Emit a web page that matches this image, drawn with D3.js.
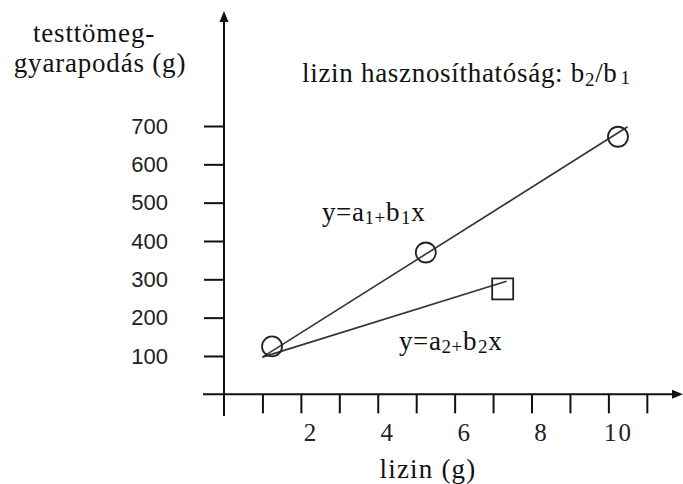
<!DOCTYPE html>
<html><head><meta charset="utf-8">
<script src="https://cdn.jsdelivr.net/npm/d3@7"></script>
<style>body{margin:0;background:#fff}svg{display:block}</style>
</head><body>
<script>
// data
const circleX = [1, 5, 10];
const circleY = [125, 370, 672];
const squareX = [7];
const squareY = [275];
const line1X = [0.75, 10.25];
const line1Y = [97, 698];
const line2X = [0.75, 7.1];
const line2Y = [97, 295];
const yTicks = [100, 200, 300, 400, 500, 600, 700];
const xLabelTicks = [2, 4, 6, 8, 10];
const xMarkTicks = [0.75, 1.75, 2.75, 3.75, 4.75, 5.75, 6.75, 7.75, 8.75, 9.75, 10.75];
const axisXValue = -0.25;

const W = 683, H = 484;
const svg = d3.select("body").append("svg").attr("width", W).attr("height", H);
const x = d3.scaleLinear().domain([0, 10]).range([233.6, 618]);
const y = d3.scaleLinear().domain([0, 700]).range([394.3, 126]);
const ax = x(axisXValue);
const serif = "'Liberation Serif','Times New Roman',serif";
const sans = "'Liberation Sans',Arial,sans-serif";
const ink = "#111";

// axes lines
svg.append("line").attr("x1", ax).attr("x2", ax).attr("y1", 416).attr("y2", 20)
  .attr("stroke", ink).attr("stroke-width", 2);
svg.append("path").attr("d", `M${ax},11 L${ax-4.5},22 L${ax+4.5},22 Z`).attr("fill", ink);
svg.append("line").attr("x1", 203).attr("x2", 674).attr("y1", y(0)).attr("y2", y(0))
  .attr("stroke", ink).attr("stroke-width", 2);
svg.append("path").attr("d", `M683,${y(0)} L672,${y(0)-4.5} L672,${y(0)+4.5} Z`).attr("fill", ink);

// y axis ticks + labels
const yAxis = svg.append("g").attr("transform", `translate(${ax},0)`)
  .call(d3.axisLeft(y).tickValues(yTicks).tickSize(20).tickPadding(36).tickFormat(d3.format("d")));
yAxis.select(".domain").remove();
yAxis.selectAll("line").attr("stroke", ink).attr("stroke-width", 2);
yAxis.selectAll("text").attr("font-family", sans).attr("font-size", 22).attr("fill", "#222");

// x axis tick marks
const xMarks = svg.append("g").attr("transform", `translate(0,${y(0)})`)
  .call(d3.axisBottom(x).tickValues(xMarkTicks).tickSize(19).tickFormat(""));
xMarks.select(".domain").remove();
xMarks.selectAll("line").attr("stroke", ink).attr("stroke-width", 2);

// x axis labels
const xLab = svg.append("g").attr("transform", `translate(0,${y(0)})`)
  .call(d3.axisBottom(x).tickValues(xLabelTicks).tickSize(0).tickPadding(29));
xLab.select(".domain").remove();
xLab.selectAll("text").attr("font-family", serif).attr("font-size", 25).attr("fill", "#222")
  .attr("letter-spacing", 2);

// lines
const lg = d3.line().x(d => x(d[0])).y(d => y(d[1]));
svg.append("path").attr("d", lg(d3.zip(line1X, line1Y))).attr("fill", "none")
  .attr("stroke", "#333").attr("stroke-width", 1.6);
svg.append("path").attr("d", lg(d3.zip(line2X, line2Y))).attr("fill", "none")
  .attr("stroke", "#333").attr("stroke-width", 1.6);

// markers
svg.selectAll("circle.pt").data(d3.zip(circleX, circleY)).join("circle")
  .attr("class", "pt").attr("cx", d => x(d[0])).attr("cy", d => y(d[1])).attr("r", 10)
  .attr("fill", "none").attr("stroke", "#222").attr("stroke-width", 1.8);
svg.selectAll("rect.pt").data(d3.zip(squareX, squareY)).join("rect")
  .attr("class", "pt").attr("x", d => x(d[0]) - 10.5).attr("y", d => y(d[1]) - 10.5)
  .attr("width", 21).attr("height", 21)
  .attr("fill", "none").attr("stroke", "#222").attr("stroke-width", 1.8);

// texts
function txt(xp, yp, size, fam) {
  return svg.append("text").attr("x", xp).attr("y", yp).attr("font-family", fam)
    .attr("font-size", size).attr("fill", "#111");
}
txt(94, 42, 27, serif).attr("text-anchor", "middle").attr("letter-spacing", 0.8).text("testtömeg-");
txt(100, 72, 27, serif).attr("text-anchor", "middle").attr("letter-spacing", 0.8).text("gyarapodás (g)");

const t1 = txt(302, 82, 27, serif).attr("letter-spacing", 0.7);
t1.append("tspan").text("lizin hasznosíthatóság:  b");
t1.append("tspan").attr("font-size", 19).attr("dy", 4).text("2");
t1.append("tspan").attr("dy", -4).text("/b");
t1.append("tspan").attr("font-size", 19).attr("dy", 2).attr("dx", 3).text("1");

function eq(xp, yp, sub) {
  const t = txt(xp, yp, 27, serif).attr("letter-spacing", 0.6);
  t.append("tspan").text("y=a");
  t.append("tspan").attr("font-size", 19).attr("dy", 3).text(sub + "+");
  t.append("tspan").attr("dy", -3).text("b");
  t.append("tspan").attr("font-size", 19).attr("dy", 3).attr("dx", 1).text(sub);
  t.append("tspan").attr("dy", -3).text("x");
}
eq(322, 221, "1");
eq(399, 350, "2");

txt(428, 478, 27, serif).attr("text-anchor", "middle").attr("letter-spacing", 1.2).text("lizin (g)");
</script>
</body></html>
